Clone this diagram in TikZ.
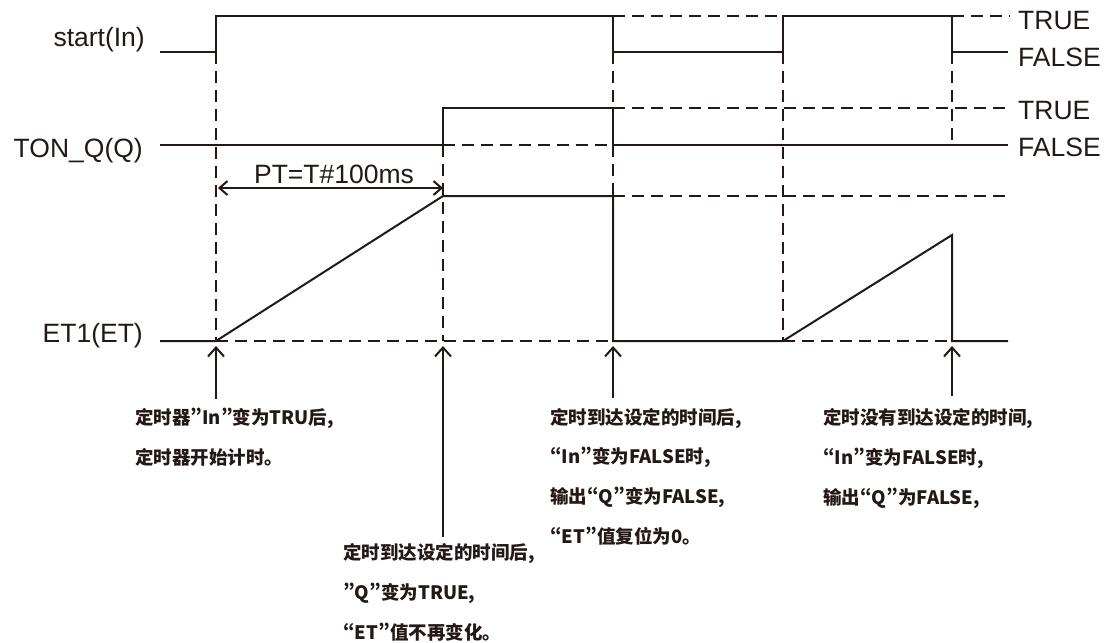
\documentclass[tikz,border=0pt]{standalone}
\usepackage{fontspec}
\setmainfont{Liberation Sans}
\newfontfamily\cjkfont{Noto Sans CJK SC}[RawFeature={+pwid}]
\usepackage{xcolor}
\definecolor{inkblack}{HTML}{231815}
\usetikzlibrary{arrows.meta}

\begin{document}
\begin{tikzpicture}[x=1pt,y=-1pt,
    wave/.style={line width=2pt,draw=inkblack,line join=miter},
    guide/.style={line width=1.8pt,draw=inkblack,dash pattern=on 12pt off 7pt},
    pointer/.style={line width=2pt,draw=inkblack,-{Straight Barb[length=9pt,width=16pt]}},
    sig/.style={font=\fontsize{26.5}{30}\selectfont,text=inkblack,inner sep=0pt},
    note/.style={font=\cjkfont\bfseries\fontsize{18.5}{39.6}\selectfont,
                 text=inkblack,align=left,inner sep=0pt,anchor=base west}]
  \useasboundingbox (0,0) rectangle (1112,643);
  % Signal names
  \node[sig,anchor=base east] (lin) at (145,46) {start(In)};
  \node[sig,anchor=base east] (lq) at (143,157) {TON\_Q(Q)};
  \node[sig,anchor=base east] (let) at (143,342) {ET1(ET)};
  % Level names
  \node[sig,anchor=base west] (intrue) at (1018,29) {TRUE};
  \node[sig,anchor=base west] (infalse) at (1018,66) {FALSE};
  \node[sig,anchor=base west] (qtrue) at (1018,119) {TRUE};
  \node[sig,anchor=base west] (qfalse) at (1018,156) {FALSE};
  % Waveforms
  \draw[wave] (160,52) -- (216,52) -- (216,16) -- (613,16) -- (613,52)
    -- (783,52) -- (783,16) -- (952,16) -- (952,52) -- (1008,52);
  \draw[wave] (160,145) -- (443,145) -- (443,108) -- (613,108) -- (613,145)
    -- (1008,145);
  \draw[wave] (160,341) -- (216,341) -- (443,196) -- (613,196) -- (613,341)
    -- (783,341) -- (952,235) -- (952,341) -- (1008,341);
  % Guide lines
  \draw[guide] (613,16) -- (783,16);
  \draw[guide] (952,16) -- (1010,16);
  \draw[guide] (613,108) -- (1010,108);
  \draw[guide] (443,145) -- (613,145);
  \draw[guide] (613,196) -- (1006,196);
  \draw[guide] (216,341) -- (613,341);
  \draw[guide] (783,341) -- (952,341);
  \draw[guide] (216,52) -- (216,341);
  \draw[guide] (443,145) -- (443,341);
  \draw[guide] (613,52) -- (613,108);
  \draw[guide] (613,145) -- (613,196);
  \draw[guide] (783,52) -- (783,341);
  \draw[guide] (952,52) -- (952,145);
  % Preset time
  \coordinate (pts) at (218,188);
  \coordinate (pte) at (443,188);
  \draw[line width=2pt,draw=inkblack,
        {Straight Barb[length=8pt,width=14pt]}-{Straight Barb[length=8pt,width=14pt]}]
    (pts) -- (pte);
  \node[sig,anchor=base] (pt) at (334,183) {PT=T\#100ms};
  % Notes (anchored on the last line)
  \node[note] (n1) at (135,464) {定时器”In”变为TRU后，\\定时器开始计时。};
  \node[note] (n2) at (343,639) {定时到达设定的时间后，\\”Q”变为TRUE，\\“ET”值不再变化。};
  \node[note] (n3) at (550,543) {定时到达设定的时间后，\\“In”变为FALSE时，\\输出“Q”变为FALSE，\\“ET”值复位为0。};
  \node[note] (n4) at (823,504) {定时没有到达设定的时间，\\“In”变为FALSE时，\\输出“Q”为FALSE，};
  % Pointers
  \coordinate (a1) at (216,399);
  \coordinate (b1) at (216,346);
  \coordinate (a2) at (443,537);
  \coordinate (b2) at (443,346);
  \coordinate (a3) at (613,398);
  \coordinate (b3) at (613,346);
  \coordinate (a4) at (952,396);
  \coordinate (b4) at (952,346);
  \draw[pointer] (a1) -- (b1);
  \draw[pointer] (a2) -- (b2);
  \draw[pointer] (a3) -- (b3);
  \draw[pointer] (a4) -- (b4);
\end{tikzpicture}
\end{document}
